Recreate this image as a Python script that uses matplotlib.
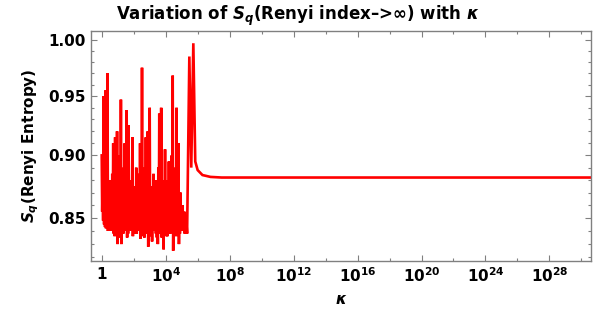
import numpy as np
import matplotlib
matplotlib.use("Agg")
import matplotlib.pyplot as plt
from matplotlib.ticker import FixedLocator, FixedFormatter, NullFormatter

plt.rcParams['font.family'] = ['DejaVu Sans']
plt.rcParams['font.weight'] = 'bold'
plt.rcParams['mathtext.fontset'] = 'custom'
plt.rcParams['mathtext.rm'] = 'DejaVu Sans:bold'
plt.rcParams['mathtext.it'] = 'DejaVu Sans:italic:bold'
plt.rcParams['mathtext.bf'] = 'DejaVu Sans:bold'

# --- data ---
# oscillating region over log10(kappa) in [0, 5.28]: main maxima, secondary maxima, minima
main_peaks = [0.900, 0.950, 0.955, 0.970, 0.880, 0.875, 0.910, 0.915, 0.920, 0.890,
              0.947, 0.880, 0.910, 0.938, 0.925, 0.880, 0.915, 0.870, 0.890, 0.870,
              0.910, 0.975, 0.880, 0.915, 0.920, 0.940, 0.875, 0.885, 0.880, 0.875,
              0.935, 0.940, 0.870, 0.905, 0.880, 0.895, 0.870, 0.968, 0.880, 0.940,
              0.910, 0.870, 0.860, 0.855, 0.850]
second_peaks = [0.880, 0.935, 0.900, 0.875, 0.870, 0.885, 0.905, 0.880, 0.875, 0.900,
                0.870, 0.890, 0.905, 0.880, 0.870, 0.880, 0.865, 0.875, 0.870, 0.885,
                0.900, 0.870, 0.890, 0.880, 0.900, 0.870, 0.875, 0.870, 0.865, 0.890,
                0.900, 0.865, 0.880, 0.870, 0.875, 0.865, 0.900, 0.875, 0.890, 0.880,
                0.865, 0.858, 0.852, 0.850]
troughs_a = [0.855, 0.845, 0.842, 0.840, 0.845, 0.840, 0.838, 0.845, 0.830, 0.840,
             0.830, 0.838, 0.845, 0.835, 0.840, 0.848, 0.836, 0.842, 0.838, 0.845,
             0.834, 0.840, 0.835, 0.845, 0.828, 0.840, 0.832, 0.845, 0.838, 0.830,
             0.842, 0.835, 0.826, 0.840, 0.836, 0.845, 0.840, 0.825, 0.845, 0.840,
             0.830, 0.840, 0.842, 0.838]
troughs_b = [0.848, 0.843, 0.845, 0.842, 0.840, 0.843, 0.836, 0.842, 0.838, 0.835,
             0.840, 0.842, 0.840, 0.838, 0.843, 0.840, 0.842, 0.838, 0.845, 0.840,
             0.838, 0.836, 0.842, 0.838, 0.840, 0.836, 0.842, 0.840, 0.835, 0.838,
             0.840, 0.838, 0.842, 0.836, 0.840, 0.838, 0.842, 0.838, 0.836, 0.840,
             0.838, 0.842, 0.840, 0.840]
osc_start, osc_end = 0.0, 5.28
# transition and plateau: log10(kappa), S_q
tail_logk = [5.34, 5.48, 5.60, 5.73, 5.85, 6.00, 6.30, 6.80, 7.50, 31.0]
tail_vals = [0.838, 0.985, 0.890, 0.997, 0.895, 0.888, 0.884, 0.8825, 0.882, 0.882]

x_major = [0, 4, 8, 12, 16, 20, 24, 28]
x_labels = ['1'] + [r'$\mathbf{10^{%d}}$' % e for e in x_major[1:]]
y_major = [0.85, 0.90, 0.95, 1.00]
y_labels = ['0.85', '0.90', '0.95', '1.00']

# --- build line: main peak, trough, secondary peak, trough, ... ---
osc_vals = []
for i, p in enumerate(main_peaks):
    osc_vals.append(p)
    if i < len(second_peaks):
        osc_vals += [troughs_a[i], second_peaks[i], troughs_b[i]]
osc_logk = np.linspace(osc_start, osc_end, len(osc_vals))
kappa = 10.0 ** np.concatenate([osc_logk, tail_logk])
vals = np.array(osc_vals + tail_vals)

fig = plt.figure(figsize=(5.96, 3.09), dpi=100)
ax = fig.add_axes([91/596, 1 - 261/309, 500/596, 230/309])
ax.plot(kappa, vals, color='#ff0000', lw=1.9, solid_joinstyle='miter')

ax.set_xscale('log')
ax.set_yscale('log')
ax.set_xlim(10**-0.67, 10**30.6)
ax.set_ylim(0.8173, 1.0082)

ax.xaxis.set_major_locator(FixedLocator([10.0**e for e in x_major]))
ax.xaxis.set_major_formatter(FixedFormatter(x_labels))
ax.xaxis.set_minor_locator(FixedLocator([10.0**e for e in range(2, 31, 4)]))
ax.xaxis.set_minor_formatter(NullFormatter())
ax.yaxis.set_major_locator(FixedLocator(y_major))
ax.yaxis.set_major_formatter(FixedFormatter(y_labels))
ax.yaxis.set_minor_locator(FixedLocator([v / 100 for v in range(82, 101) if v % 5 != 0]))
ax.yaxis.set_minor_formatter(NullFormatter())

gray = '#808080'
for s in ax.spines.values():
    s.set_color(gray)
    s.set_linewidth(1.0)
ax.tick_params(which='both', direction='in', top=True, right=True, color=gray,
               labelsize=11, pad=4)
ax.tick_params(which='major', length=4, width=0.8)
ax.tick_params(which='minor', length=2.5, width=0.8)
for lab in ax.get_xticklabels() + ax.get_yticklabels():
    lab.set_fontweight('bold')

ax.set_xlabel(r'$\kappa$', fontsize=11, labelpad=5)
ax.set_ylabel(r'$S_q$(Renyi Entropy)', fontsize=11, fontweight='bold', labelpad=5)
fig.text(0.5, 0.948, 'Variation of $S_q$(Renyi index\u2013>\u221e) with $\\kappa$',
         ha='center', va='center', fontsize=12, fontweight='bold')

fig.savefig('out.png', dpi=100)
